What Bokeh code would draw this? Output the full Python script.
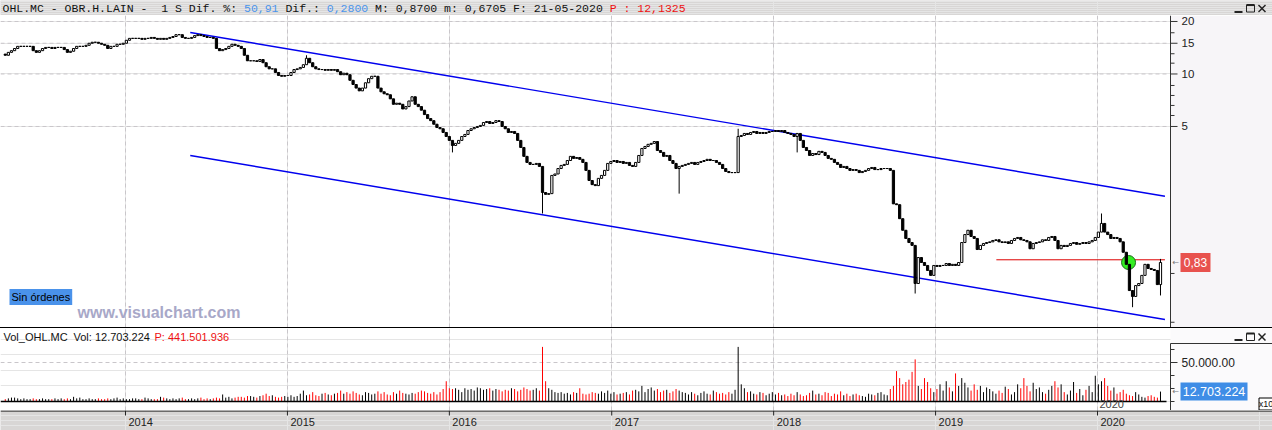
import pandas as pd
from bokeh.plotting import figure
from bokeh.layouts import column
from bokeh.models import Range1d, FixedTicker, Label, Div, Grid, ColumnDataSource
from bokeh.core.properties import value
from bokeh.embed import file_html
from bokeh.resources import INLINE

# ---------------- data ----------------
last_week = "2020-05-22"
first_open = 13.0
closes = [
    12.8, 13.3, 13.6, 14.0, 14.4, 14.4, 14.4, 14.4, 14.4,
    13.6, 13.3, 13.6, 14.0, 14.2, 14.2, 14.0, 14.2, 14.2, 14.2,
    13.8, 13.3, 13.5, 14.0, 14.4, 14.4, 14.4, 14.6, 15.0, 15.2,
    15.2, 15.0, 14.8, 14.6, 14.0, 14.4, 14.4, 14.8, 14.8, 15.0,
    15.6, 16.0, 16.0, 16.0, 16.0, 15.8, 16.0, 16.0, 16.2, 16.0,
    15.8, 16.0, 15.8, 16.0, 16.2, 16.4, 16.8, 16.8, 16.2, 16.0,
    16.0, 16.2, 16.6, 16.8, 16.6, 16.4, 16.2, 16.2, 16.0, 14.0,
    13.6, 13.8, 14.0, 14.4, 14.8, 14.6, 14.4, 14.0, 12.8, 11.9,
    11.9, 11.9, 11.8, 12.1, 11.6, 11.0, 10.7, 10.7, 10.2, 9.8,
    9.7, 9.8, 9.8, 10.2, 10.6, 10.7, 10.9, 11.3, 12.3, 11.6,
    11.0, 10.7, 10.6, 10.6, 10.5, 10.6, 10.5, 10.6, 10.3, 9.9,
    10.1, 9.9, 9.2, 8.7, 8.3, 8.0, 8.3, 8.9, 9.4, 9.7,
    9.7, 8.3, 7.9, 7.7, 7.6, 7.2, 6.7, 6.8, 6.7, 6.3,
    6.5, 7.0, 7.4, 6.7, 6.5, 6.2, 5.85, 5.55, 5.4, 5.15,
    4.93, 4.85, 4.62, 4.38, 4.16, 3.89, 4.0, 4.16, 4.38, 4.5,
    4.74, 4.85, 4.93, 5.0, 5.07, 5.27, 5.34, 5.2, 5.27, 5.4,
    5.34, 5.0, 4.85, 4.62, 4.68, 4.56, 4.16, 3.79, 3.37, 3.11,
    3.03, 3.03, 3.07, 2.95, 2.09, 2.04, 2.06, 2.62, 2.67, 2.87,
    2.99, 3.03, 3.19, 3.37, 3.28, 3.32, 3.24, 3.11, 2.80, 2.45,
    2.32, 2.29, 2.52, 2.62, 2.80, 3.07, 3.15, 3.19, 3.11, 3.15,
    3.07, 3.11, 2.99, 2.95, 3.11, 3.41, 3.74, 3.84, 3.95, 4.0,
    4.1, 3.64, 3.55, 3.37, 3.41, 3.19, 3.07, 2.87, 2.95, 2.99,
    3.03, 3.07, 3.11, 3.03, 3.11, 3.15, 3.19, 3.24, 3.19, 3.19,
    3.11, 3.03, 2.87, 2.76, 2.72, 2.72, 2.72, 4.38, 4.44, 4.56,
    4.5, 4.62, 4.68, 4.56, 4.62, 4.56, 4.62, 4.68, 4.68, 4.74,
    4.68, 4.74, 4.62, 4.56, 4.5, 4.38, 4.56, 4.16, 3.79, 3.64,
    3.41, 3.50, 3.45, 3.60, 3.55, 3.41, 3.28, 3.24, 3.11, 3.03,
    2.91, 2.95, 2.87, 2.80, 2.83, 2.80, 2.72, 2.76, 2.80, 2.87,
    2.91, 2.83, 2.83, 2.87, 2.87, 2.87, 2.80, 1.80, 1.78, 1.48,
    1.27, 1.14, 1.08, 1.04, 0.629, 0.886, 0.83, 0.798, 0.747, 0.70,
    0.798, 0.788, 0.798, 0.798, 0.819, 0.798, 0.81, 0.798, 0.83, 1.08,
    1.20, 1.27, 1.17, 1.14, 0.985, 1.04, 1.067, 1.08, 1.09, 1.11,
    1.12, 1.09, 1.08, 1.09, 1.067, 1.11, 1.14, 1.155, 1.12, 1.11,
    1.09, 0.995, 1.067, 1.08, 1.09, 1.12, 1.11, 1.155, 1.17, 1.11,
    0.995, 1.04, 1.025, 1.04, 1.067, 1.08, 1.055, 1.067, 1.08, 1.067,
    1.09, 1.11, 1.155, 1.24, 1.39, 1.24, 1.20, 1.14, 1.155, 1.14,
    1.09, 0.95, 0.81, 0.573, 0.53, 0.612, 0.629, 0.70, 0.81, 0.767,
    0.757, 0.747, 0.62, 0.83,
]
# notable wicks (week index, value)
wick_high_idx = [97, 236, 353, 372]
wick_high_val = [12.8, 4.85, 1.585, 0.87]
wick_low_idx = [144, 173, 217, 255, 293, 363, 372]
wick_low_val = [3.55, 1.585, 2.06, 3.55, 0.551, 0.46, 0.537]

# weekly volume, millions
volumes = [
    3, 4, 5, 5, 4, 3, 4, 3, 3, 4,
    3, 3, 4, 3, 3, 3, 4, 3, 4, 3,
    4, 3, 6, 4, 5, 3, 3, 4, 3, 3,
    4, 3, 3, 4, 3, 4, 5, 3, 4, 3,
    3, 4, 4, 3, 3, 5, 4, 3, 3, 3,
    6, 5, 4, 3, 4, 3, 4, 5, 3, 3,
    4, 3, 4, 5, 3, 4, 3, 4, 5, 4,
    9, 5, 6, 4, 5, 6, 6, 5, 7, 7,
    6, 5, 7, 8, 10, 7, 8, 6, 5, 6,
    7, 6, 8, 6, 7, 10, 14, 8, 9, 12,
    8, 7, 10, 11, 9, 8, 10, 11, 14, 10,
    12, 10, 13, 11, 9, 8, 12, 11, 9, 10,
    13, 10, 12, 9, 8, 12, 10, 14, 11, 10,
    9, 11, 10, 12, 14, 13, 11, 10, 12, 9,
    12, 16, 26, 17, 16, 17, 15, 12, 17, 15,
    16, 14, 18, 17, 15, 16, 17, 14, 16, 15,
    13, 15, 14, 17, 16, 13, 15, 18, 16, 14,
    15, 17, 14, 70, 26, 17, 15, 12, 11, 12,
    10, 11, 9, 12, 11, 17, 10, 9, 10, 12,
    11, 10, 13, 11, 14, 10, 12, 9, 10, 11,
    12, 9, 14, 15, 13, 20, 12, 16, 18, 14,
    16, 12, 14, 15, 11, 13, 16, 14, 12, 11,
    9, 12, 10, 8, 11, 13, 10, 9, 14, 12,
    10, 11, 9, 12, 10, 15, 70, 22, 17, 12,
    13, 10, 9, 12, 11, 8, 10, 12, 9, 11,
    8, 9, 7, 10, 8, 12, 9, 7, 8, 11,
    14, 9, 10, 8, 12, 11, 7, 10, 9, 13,
    8, 10, 7, 9, 10, 8, 7, 6, 10, 9,
    8, 11, 12, 9, 8, 16, 20, 39, 30, 22,
    25, 28, 38, 54, 20, 16, 30, 25, 17, 12,
    16, 22, 14, 26, 18, 13, 36, 20, 30, 24,
    18, 14, 22, 15, 20, 12, 18, 16, 13, 10,
    14, 11, 19, 16, 9, 12, 22, 17, 30, 20,
    13, 24, 16, 18, 12, 10, 15, 20, 26, 18,
    22, 12, 9, 14, 25, 11, 16, 8, 15, 20,
    12, 33, 22, 26, 30, 20, 14, 18, 10, 12,
    15, 10, 8, 7, 12, 9, 6, 5, 7, 8,
    6, 5, 12.703224,
]

# channel lines and order level
upper_dates = ["2014-05-27", "2020-06-01"]
upper_vals = [17.29, 1.99]
lower_dates = ["2014-05-27", "2020-06-01"]
lower_vals = [3.41, 0.391]
order_dates = ["2019-05-18", "2020-06-01"]
order_vals = [0.86, 0.86]
signal_date = ["2020-03-11"]
signal_val = [0.83]
last_price_label = "0,83"
last_price = 0.83
last_vol_label = "12.703.224"
last_vol = 12.703224

years = [2014, 2015, 2016, 2017, 2018, 2019, 2020]
year_labels = [str(y) for y in years]
price_ticks = [5, 10, 15, 20]
price_tick_labels = ["5", "10", "15", "20"]
price_minor = [17.23, 13.06, 11.53, 8.59, 7.53, 6.60, 5.78, 0.718, 0.377]
vol_ticks = [50]
vol_tick_labels = ["50.000.00"]
vol_minor = [0, 16.67, 33.33, 66.67]

header_texts = ["OHL.MC - OBR.H.LAIN -  1 S Dif. %: ", "50,91", " Dif.: ", "0,2800",
                " M: 0,8700 m: 0,6705 F: 21-05-2020 ", "P : 12,1325"]
header_colors = ["#111111", "#4a94ec", "#111111", "#4a94ec", "#111111", "#ee1111"]
vol_header_texts = ["Vol_OHL.MC", "Vol: 12.703.224", "P: 441.501.936"]
vol_header_colors = ["#111111", "#111111", "#ee1111"]

# ---------------- derived ----------------
dates = pd.date_range(end=last_week, periods=len(closes), freq="7D")
opens = [first_open] + closes[:-1]
highs = [max(o, c) for o, c in zip(opens, closes)]
lows = [min(o, c) for o, c in zip(opens, closes)]
for i, v_ in zip(wick_high_idx, wick_high_val):
    highs[i] = v_
for i, v_ in zip(wick_low_idx, wick_low_val):
    lows[i] = v_
up = [c >= o for o, c in zip(opens, closes)]
src = ColumnDataSource(dict(
    date=dates, high=highs, low=lows,
    top=[max(o, c) for o, c in zip(opens, closes)],
    bottom=[min(o, c) for o, c in zip(opens, closes)],
    fill=["white" if u else "black" for u in up],
    vol=volumes,
    vcol=["black" if u else "#ff0000" for u in up],
))
year_dates = [pd.Timestamp(f"{y}-01-01") for y in years]
year_ms = [d.value / 1e6 for d in year_dates]

# ---------------- layout geometry ----------------
W = 1272
AX = 1170                       # pixel column of the right axis line
x_start = pd.Timestamp("2013-03-25 06:00")
x_end = pd.Timestamp("2020-06-13 13:00")   # date at the axis line
span = (x_end - x_start) * (W / AX)
x_full = x_start + span


def at_px(px):
    return x_start + span * (px / W)


SANS = "Liberation Sans"
MONO = "Liberation Mono"
GRIDC = "#c9c6ca"
BARBG = "#d8d6d5"
PANELBG = "#f7f5f8"
AXC = "#333333"
WEEK_W = 5 * 86400000


def bare(height, x_range, y_range, **kw):
    f = figure(width=W, height=height, x_range=x_range, y_range=y_range,
               x_axis_location=None, y_axis_location=None, toolbar_location=None,
               output_backend="svg", min_border=0, **kw)
    f.min_border_left = f.min_border_right = f.min_border_top = f.min_border_bottom = 0
    f.outline_line_color = None
    return f


def window_buttons(f, yb, yt, y_us):
    # "_ [] X" window buttons; yb/yt = bottom/top of button glyph box in data units
    f.segment(x0=[at_px(1234)], y0=[y_us], x1=[at_px(1242)], y1=[y_us], line_color="#222", line_width=2)
    f.quad(left=[at_px(1246)], right=[at_px(1254)], bottom=[yb], top=[yt], fill_color=None,
           line_color="#222", line_width=1)
    f.segment(x0=[at_px(1246)], y0=[yt], x1=[at_px(1254)], y1=[yt], line_color="#222", line_width=2)
    f.segment(x0=[at_px(1258), at_px(1258)], y0=[yb, yt], x1=[at_px(1265), at_px(1265)], y1=[yt, yb],
              line_color="#222", line_width=1.5)


# ---------------- header bar ----------------
hdr = bare(15, Range1d(x_start, x_full), Range1d(0, 15), x_axis_type="datetime")
hdr.background_fill_color = BARBG
hdr.border_fill_color = BARBG
CW = 6.9
xs, ts, cs = [], [], []
pos = 0
for txt, col in zip(header_texts, header_colors):
    i = 0
    for tok in txt.split(" "):
        if tok:
            xs.append(at_px(2 + CW * (pos + i)))
            ts.append(tok)
            cs.append(col)
        i += len(tok) + 1
    pos += len(txt)
hdr.text(x=xs, y=[7.5] * len(xs), text=ts, text_color=cs, text_font=value(MONO),
         text_font_size="11.5px", text_baseline="middle")
window_buttons(hdr, 3.5, 10.5, 3.5)

# ---------------- price panel ----------------
PY0, PY1 = 0.3518, 21.64
p = bare(312, Range1d(x_start, x_full), Range1d(PY0, PY1), x_axis_type="datetime", y_axis_type="log")
p.background_fill_color = "white"
p.border_fill_color = "white"
p.quad(left=[x_end], right=[x_full], bottom=[PY0], top=[PY1], fill_color=PANELBG, line_color=None)
p.add_layout(Grid(dimension=0, ticker=FixedTicker(ticks=year_ms), grid_line_color=GRIDC, grid_line_dash="4 3"))
p.segment(x0=[x_start] * len(price_ticks), x1=[at_px(AX - 2)] * len(price_ticks),
          y0=price_ticks, y1=price_ticks, line_color=GRIDC, line_dash="4 3", line_width=1)
# right axis
p.segment(x0=[x_end], y0=[PY0], x1=[x_end], y1=[PY1], line_color=AXC, line_width=1)
p.segment(x0=[x_end] * len(price_ticks), x1=[at_px(AX + 7)] * len(price_ticks),
          y0=price_ticks, y1=price_ticks, line_color=AXC, line_width=1)
p.segment(x0=[x_end] * len(price_minor), x1=[at_px(AX + 4)] * len(price_minor),
          y0=price_minor, y1=price_minor, line_color=AXC, line_width=1)
p.text(x=[at_px(AX + 11)] * len(price_ticks), y=price_ticks, text=price_tick_labels,
       text_font=value(SANS), text_font_size="11.5px", text_color="#222222", text_baseline="middle")

p.line(x=pd.to_datetime(upper_dates), y=upper_vals, line_color="#0000ee", line_width=1.4)
p.line(x=pd.to_datetime(lower_dates), y=lower_vals, line_color="#0000ee", line_width=1.4)
p.line(x=pd.to_datetime(order_dates), y=order_vals, line_color="#dd0000", line_width=1)
p.scatter(x=pd.to_datetime(signal_date), y=signal_val, size=14, fill_color="#33ee22",
          line_color="#1a6a1a", line_width=1)
p.segment("date", "high", "date", "low", source=src, line_color="black", line_width=1)
p.vbar(x="date", width=WEEK_W, top="top", bottom="bottom", fill_color="fill",
       line_color="black", line_width=1, source=src)

# last price marker
p.text(x=[at_px(AX + 2)], y=[last_price], text=["←"], text_font=value("DejaVu Sans"),
       text_font_size="8px", text_color="#777777", text_baseline="middle")
p.rect(x=[at_px(AX + 25)], y=[last_price], width=30, height=19, width_units="screen",
       height_units="screen", fill_color="#e8524e", line_color=None)
p.text(x=[at_px(AX + 25)], y=[last_price], text=[last_price_label], text_font=value(SANS),
       text_font_size="12px", text_color="white", text_baseline="middle", text_align="center")

p.add_layout(Label(x=9, y=30.5, x_units="screen", y_units="screen", text="Sin órdenes",
                   text_font=SANS, text_font_size="11px", text_color="black", text_baseline="middle",
                   background_fill_color="#4a92ea", padding=2))
p.add_layout(Label(x=77, y=15, x_units="screen", y_units="screen", text="www.visualchart.com",
                   text_font=SANS, text_font_style="bold", text_font_size="16px",
                   text_color="#a8a8c8", text_baseline="middle"))

sep = Div(width=W, height=1, styles={"background-color": "black"}, margin=0)

# ---------------- volume panel ----------------
BASE = 401.0     # pixel row of zero volume
PPM = 0.78       # pixels per million


def vy(py):
    return (BASE - py) / PPM


VY0, VY1 = vy(410), vy(328)
VTOP = vy(343)
v = bare(82, p.x_range, Range1d(VY0, VY1), x_axis_type="datetime")
v.background_fill_color = "white"
v.border_fill_color = "white"
v.quad(left=[x_end], right=[x_full], bottom=[VY0], top=[VY1], fill_color="#fbfafc", line_color=None)
v.add_layout(Grid(dimension=0, ticker=FixedTicker(ticks=year_ms), grid_line_color=GRIDC, grid_line_dash="4 3"))
v.segment(x0=[x_start] * len(vol_ticks), x1=[at_px(AX - 2)] * len(vol_ticks),
          y0=vol_ticks, y1=vol_ticks, line_color=GRIDC, line_dash="4 3", line_width=1)
v.segment("date", 0, "date", "vol", line_color="vcol", line_width=1, source=src)
v.segment(x0=[x_start], y0=[0], x1=[at_px(AX - 4)], y1=[0], line_color="black", line_width=1.5)
# right axis
v.segment(x0=[x_end], y0=[VY0], x1=[x_end], y1=[VTOP], line_color=AXC, line_width=1)
v.segment(x0=[x_end], y0=[VTOP], x1=[x_full], y1=[VTOP], line_color=AXC, line_width=1)
v.segment(x0=[x_end] * len(vol_ticks), x1=[at_px(AX + 7)] * len(vol_ticks),
          y0=vol_ticks, y1=vol_ticks, line_color=AXC, line_width=1)
v.segment(x0=[x_end] * len(vol_minor), x1=[at_px(AX + 4)] * len(vol_minor),
          y0=vol_minor, y1=vol_minor, line_color=AXC, line_width=1)
v.text(x=[at_px(AX + 11)] * len(vol_ticks), y=vol_ticks, text=vol_tick_labels,
       text_font=value(SANS), text_font_size="12px", text_color="#222222", text_baseline="middle")
v.text(x=[at_px(AX + 2)], y=[last_vol], text=["←"], text_font=value("DejaVu Sans"),
       text_font_size="8px", text_color="#777777", text_baseline="middle")
v.rect(x=[at_px(AX + 43.5)], y=[last_vol], width=67, height=18, width_units="screen",
       height_units="screen", fill_color="#3f8de6", line_color=None)
v.text(x=[at_px(AX + 43.5)], y=[last_vol], text=[last_vol_label], text_font=value(SANS),
       text_font_size="12.5px", text_color="white", text_baseline="middle", text_align="center")
v.rect(x=[at_px(1265.5)], y=[vy(403.5)], width=14, height=12, width_units="screen",
       height_units="screen", fill_color="white", line_color="black", line_width=1)
v.text(x=[at_px(1265.5)], y=[vy(403.5)], text=["x10"], text_font=value(SANS),
       text_font_size="9px", text_color="#111111", text_baseline="middle", text_align="center")
v.text(x=[year_dates[-1]], y=[vy(403)], text=["2020"], x_offset=2, text_font=value(SANS),
       text_font_size="11px", text_color="#444444", text_baseline="middle")
v.text(x=[at_px(3), at_px(73), at_px(154)], y=[vy(336.5)] * 3, text=vol_header_texts,
       text_color=vol_header_colors, text_font=value(SANS), text_font_size="11px",
       text_baseline="middle")
window_buttons(v, vy(340), vy(333), vy(339.5))

# ---------------- date band ----------------
b = bare(20, Range1d(x_start, x_full), Range1d(0, 20), x_axis_type="datetime")
b.background_fill_color = BARBG
b.border_fill_color = BARBG
b.segment(x0=[x_start], y0=[19.5], x1=[x_full], y1=[19.5], line_color="black", line_width=1)
b.segment(x0=year_dates, y0=[20] * len(years), x1=year_dates, y1=[15] * len(years),
          line_color="#222222", line_width=1)
b.text(x=year_dates, y=[9] * len(years), text=year_labels, x_offset=3, text_baseline="middle",
       text_font=value(SANS), text_font_size="11px", text_color="#222222")

layout = column(hdr, p, sep, v, b, spacing=0)
open("out.html", "w").write(file_html(layout, INLINE, "OHL.MC"))
